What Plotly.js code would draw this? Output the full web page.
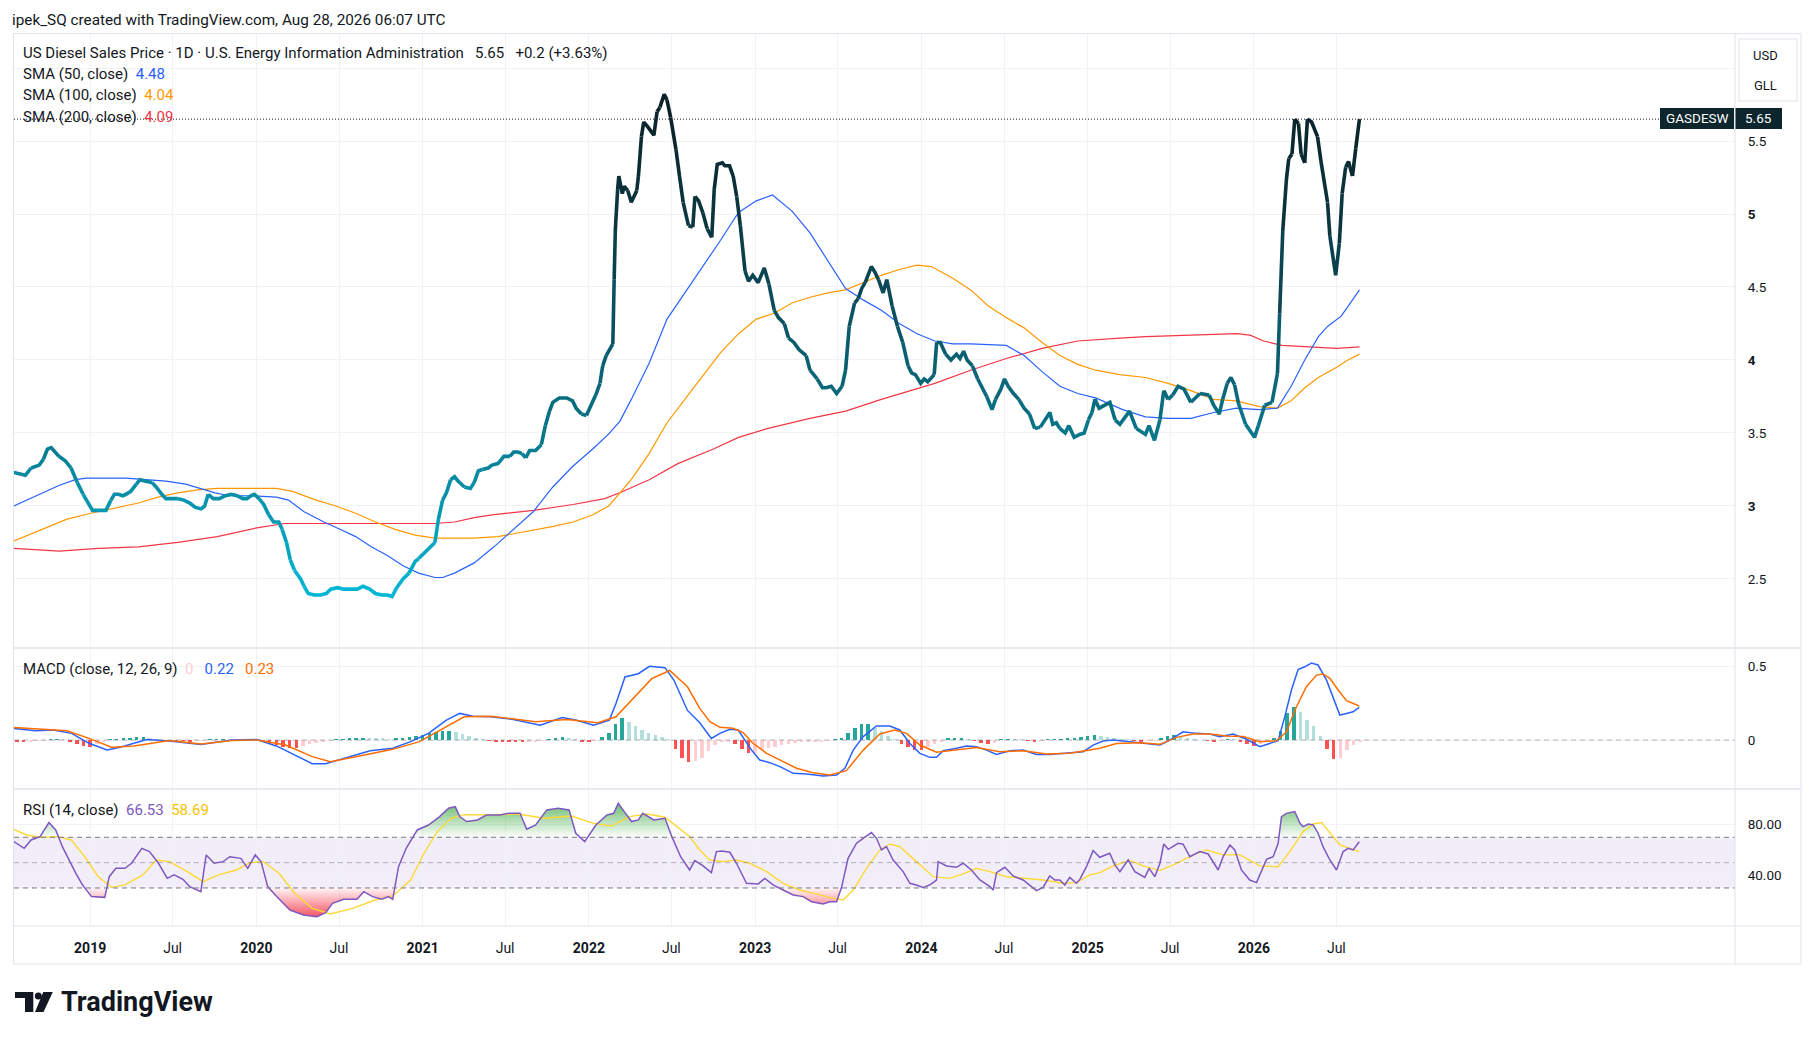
<!DOCTYPE html>
<html><head><meta charset="utf-8">
<script src="https://cdn.plot.ly/plotly-3.0.1.min.js"></script>
<style>html,body{margin:0;padding:0;background:#fff;}#chart{width:1814px;height:1040px;}</style>
</head><body><div id="chart"></div>
<script>
// ---------------- DATA (decimal year, value) ----------------
const price = [[2018.541,3.23],[2018.589,3.22],[2018.610,3.21],[2018.645,3.26],[2018.694,3.28],[2018.719,3.32],[2018.743,3.39],[2018.766,3.40],[2018.812,3.34],[2018.850,3.31],
[2018.885,3.26],[2018.923,3.16],[2018.958,3.08],[2018.993,3.01],[2019.014,2.97],[2019.063,2.97],[2019.095,2.97],[2019.125,3.04],[2019.146,3.08],[2019.171,3.08],
[2019.195,3.07],[2019.216,3.08],[2019.244,3.10],[2019.278,3.15],[2019.299,3.18],[2019.334,3.17],[2019.372,3.16],[2019.397,3.13],[2019.431,3.08],[2019.456,3.05],
[2019.491,3.05],[2019.527,3.05],[2019.564,3.04],[2019.599,3.02],[2019.633,2.99],[2019.668,2.98],[2019.689,3.00],[2019.710,3.08],[2019.741,3.05],[2019.777,3.05],
[2019.814,3.07],[2019.849,3.08],[2019.884,3.07],[2019.919,3.05],[2019.943,3.05],[2019.967,3.07],[2019.988,3.08],[2020.016,3.05],[2020.044,3.01],[2020.074,2.94],
[2020.103,2.89],[2020.134,2.89],[2020.155,2.84],[2020.181,2.75],[2020.204,2.63],[2020.229,2.56],[2020.266,2.50],[2020.287,2.45],[2020.312,2.40],[2020.347,2.39],
[2020.385,2.39],[2020.420,2.40],[2020.447,2.43],[2020.489,2.44],[2020.524,2.43],[2020.573,2.43],[2020.607,2.43],[2020.642,2.45],[2020.681,2.43],[2020.716,2.40],
[2020.754,2.39],[2020.788,2.39],[2020.816,2.38],[2020.844,2.44],[2020.882,2.50],[2020.918,2.54],[2020.955,2.62],[2020.976,2.64],[2021.011,2.68],[2021.046,2.72],
[2021.074,2.75],[2021.095,2.91],[2021.120,3.04],[2021.143,3.09],[2021.168,3.18],[2021.192,3.20],[2021.213,3.17],[2021.251,3.13],[2021.287,3.12],[2021.310,3.16],
[2021.335,3.24],[2021.359,3.25],[2021.394,3.26],[2021.417,3.28],[2021.453,3.29],[2021.489,3.34],[2021.525,3.34],[2021.548,3.37],[2021.572,3.37],[2021.596,3.36],
[2021.620,3.33],[2021.644,3.38],[2021.679,3.38],[2021.714,3.42],[2021.738,3.55],[2021.763,3.65],[2021.783,3.71],[2021.822,3.74],[2021.867,3.74],[2021.902,3.72],
[2021.923,3.67],[2021.955,3.63],[2021.985,3.62],[2022.013,3.69],[2022.041,3.76],[2022.067,3.84],[2022.083,3.96],[2022.104,4.03],[2022.144,4.11],[2022.152,4.55],
[2022.159,4.89],[2022.173,5.17],[2022.180,5.26],[2022.201,5.14],[2022.213,5.19],[2022.234,5.16],[2022.255,5.08],[2022.288,5.16],[2022.298,5.26],[2022.316,5.53],
[2022.330,5.63],[2022.352,5.60],[2022.391,5.54],[2022.410,5.70],[2022.427,5.73],[2022.453,5.82],[2022.470,5.78],[2022.492,5.66],[2022.524,5.44],[2022.545,5.26],
[2022.567,5.08],[2022.599,4.92],[2022.625,4.91],[2022.638,5.12],[2022.660,5.09],[2022.685,5.01],[2022.711,4.90],[2022.739,4.84],[2022.754,5.17],[2022.772,5.34],
[2022.803,5.35],[2022.818,5.33],[2022.846,5.33],[2022.868,5.26],[2022.889,5.12],[2022.911,4.92],[2022.939,4.61],[2022.960,4.54],[2022.986,4.58],[2023.018,4.53],
[2023.055,4.63],[2023.083,4.52],[2023.115,4.34],[2023.140,4.29],[2023.175,4.25],[2023.201,4.15],[2023.233,4.12],[2023.265,4.07],[2023.307,4.03],[2023.330,3.93],
[2023.373,3.87],[2023.405,3.81],[2023.426,3.81],[2023.458,3.82],[2023.490,3.77],[2023.523,3.82],[2023.544,3.93],[2023.566,4.23],[2023.598,4.39],[2023.620,4.42],
[2023.641,4.49],[2023.662,4.53],[2023.699,4.64],[2023.721,4.60],[2023.742,4.55],[2023.770,4.46],[2023.792,4.55],[2023.824,4.37],[2023.856,4.23],[2023.888,4.12],
[2023.920,3.96],[2023.942,3.91],[2023.964,3.90],[2023.996,3.84],[2024.017,3.87],[2024.038,3.85],[2024.077,3.90],[2024.092,4.12],[2024.114,4.12],[2024.146,4.04],
[2024.178,4.00],[2024.211,4.04],[2024.232,4.01],[2024.254,4.06],[2024.275,4.00],[2024.307,3.96],[2024.339,3.87],[2024.371,3.80],[2024.393,3.75],[2024.425,3.66],
[2024.446,3.73],[2024.478,3.80],[2024.500,3.87],[2024.522,3.82],[2024.554,3.77],[2024.586,3.73],[2024.618,3.67],[2024.650,3.63],[2024.682,3.53],[2024.715,3.54],
[2024.747,3.60],[2024.773,3.64],[2024.790,3.56],[2024.812,3.57],[2024.833,3.53],[2024.865,3.50],[2024.887,3.55],[2024.919,3.47],[2024.952,3.49],[2024.979,3.50],
[2025.005,3.59],[2025.026,3.64],[2025.044,3.73],[2025.069,3.67],[2025.134,3.71],[2025.165,3.59],[2025.194,3.56],[2025.252,3.65],[2025.293,3.53],[2025.348,3.49],
[2025.369,3.55],[2025.402,3.45],[2025.435,3.59],[2025.458,3.79],[2025.484,3.73],[2025.512,3.76],[2025.544,3.82],[2025.580,3.80],[2025.621,3.71],[2025.676,3.77],
[2025.731,3.76],[2025.758,3.69],[2025.792,3.63],[2025.812,3.73],[2025.840,3.84],[2025.862,3.88],[2025.884,3.83],[2025.908,3.70],[2025.950,3.56],[2026.004,3.47],
[2026.027,3.55],[2026.065,3.69],[2026.109,3.71],[2026.142,3.91],[2026.155,4.32],[2026.174,4.89],[2026.196,5.24],[2026.210,5.38],[2026.229,5.41],[2026.246,5.65],
[2026.268,5.62],[2026.284,5.41],[2026.306,5.35],[2026.322,5.65],[2026.347,5.63],[2026.383,5.53],[2026.405,5.35],[2026.443,5.08],[2026.457,4.85],[2026.492,4.58],
[2026.514,4.80],[2026.531,5.14],[2026.552,5.32],[2026.569,5.36],[2026.593,5.26],[2026.613,5.45],[2026.635,5.65]];

const sma50 = [[2018.541,3.00],[2018.694,3.08],[2018.812,3.14],[2018.910,3.18],[2018.979,3.19],[2019.097,3.19],[2019.216,3.19],[2019.334,3.18],[2019.456,3.17],[2019.575,3.15],[2019.668,3.12],[2019.752,3.09],[2019.835,3.07],[2019.979,3.07],[2020.120,3.06],[2020.193,3.04],[2020.287,2.96],[2020.406,2.89],[2020.503,2.84],[2020.597,2.79],[2020.691,2.72],[2020.788,2.66],[2020.882,2.59],[2020.976,2.54],[2021.074,2.51],[2021.120,2.51],[2021.192,2.54],[2021.310,2.61],[2021.429,2.72],[2021.547,2.84],[2021.665,2.96],[2021.783,3.13],[2021.902,3.27],[2022.023,3.39],[2022.117,3.49],[2022.186,3.58],[2022.255,3.73],[2022.363,3.98],[2022.470,4.28],[2022.577,4.46],[2022.685,4.64],[2022.792,4.82],[2022.900,5.01],[2023.007,5.09],[2023.104,5.13],[2023.222,5.02],[2023.330,4.87],[2023.437,4.68],[2023.544,4.49],[2023.652,4.41],[2023.759,4.34],[2023.867,4.25],[2023.974,4.18],[2024.081,4.13],[2024.189,4.11],[2024.296,4.11],[2024.511,4.10],[2024.618,4.03],[2024.726,3.92],[2024.833,3.82],[2024.940,3.77],[2025.048,3.74],[2025.156,3.69],[2025.211,3.66],[2025.348,3.61],[2025.484,3.60],[2025.621,3.60],[2025.758,3.64],[2025.895,3.67],[2026.032,3.66],[2026.142,3.67],[2026.224,3.82],[2026.306,4.00],[2026.388,4.16],[2026.443,4.23],[2026.525,4.30],[2026.580,4.39],[2026.635,4.48]];

const sma100 = [[2018.541,2.76],[2018.694,2.83],[2018.861,2.91],[2019.004,2.95],[2019.171,2.99],[2019.290,3.02],[2019.408,3.06],[2019.527,3.09],[2019.646,3.11],[2019.765,3.12],[2019.932,3.12],[2020.120,3.12],[2020.217,3.10],[2020.360,3.04],[2020.478,3.00],[2020.597,2.95],[2020.716,2.89],[2020.835,2.84],[2020.954,2.80],[2021.073,2.78],[2021.192,2.78],[2021.310,2.78],[2021.453,2.79],[2021.548,2.81],[2021.667,2.83],[2021.786,2.86],[2021.905,2.89],[2022.024,2.94],[2022.119,3.00],[2022.186,3.09],[2022.255,3.18],[2022.363,3.36],[2022.470,3.57],[2022.577,3.73],[2022.685,3.89],[2022.792,4.05],[2022.900,4.18],[2023.007,4.28],[2023.115,4.32],[2023.222,4.39],[2023.330,4.43],[2023.437,4.46],[2023.544,4.48],[2023.652,4.53],[2023.759,4.58],[2023.867,4.62],[2023.974,4.65],[2024.060,4.64],[2024.189,4.56],[2024.296,4.48],[2024.403,4.37],[2024.511,4.29],[2024.618,4.22],[2024.726,4.12],[2024.833,4.03],[2024.940,3.97],[2025.048,3.93],[2025.194,3.90],[2025.348,3.88],[2025.484,3.84],[2025.621,3.79],[2025.758,3.73],[2025.895,3.72],[2026.032,3.68],[2026.142,3.67],[2026.224,3.72],[2026.306,3.81],[2026.388,3.88],[2026.498,3.95],[2026.566,4.00],[2026.635,4.04]];

const sma200 = [[2018.541,2.71],[2018.694,2.70],[2018.812,2.69],[2019.052,2.71],[2019.290,2.72],[2019.527,2.75],[2019.765,2.79],[2020.002,2.85],[2020.169,2.88],[2020.360,2.88],[2020.597,2.88],[2020.835,2.88],[2021.073,2.88],[2021.192,2.89],[2021.310,2.92],[2021.429,2.94],[2021.667,2.97],[2021.905,3.01],[2022.095,3.05],[2022.186,3.09],[2022.363,3.18],[2022.535,3.29],[2022.749,3.39],[2022.900,3.47],[2023.072,3.53],[2023.330,3.60],[2023.544,3.65],[2023.759,3.73],[2023.974,3.80],[2024.081,3.84],[2024.296,3.93],[2024.511,4.01],[2024.726,4.08],[2024.940,4.13],[2025.194,4.15],[2025.348,4.16],[2025.621,4.17],[2025.895,4.18],[2025.977,4.17],[2026.059,4.13],[2026.169,4.10],[2026.306,4.09],[2026.498,4.08],[2026.635,4.09]];

const macdLine = [[2018.541,0.078],[2018.672,0.063],[2018.777,0.067],[2018.889,0.045],[2018.993,-0.022],[2019.102,-0.067],[2019.181,-0.049],[2019.341,0.004],[2019.477,-0.007],[2019.666,-0.031],[2019.854,0.0],[2020.002,0.004],[2020.120,-0.04],[2020.230,-0.10],[2020.336,-0.16],[2020.417,-0.16],[2020.524,-0.123],[2020.684,-0.072],[2020.820,-0.056],[2020.928,-0.011],[2021.035,0.045],[2021.143,0.135],[2021.223,0.18],[2021.303,0.16],[2021.411,0.157],[2021.545,0.139],[2021.707,0.10],[2021.839,0.152],[2021.921,0.135],[2022.028,0.10],[2022.123,0.135],[2022.163,0.247],[2022.217,0.426],[2022.297,0.448],[2022.364,0.498],[2022.458,0.489],[2022.512,0.404],[2022.593,0.20],[2022.667,0.117],[2022.737,0.011],[2022.788,0.045],[2022.848,0.072],[2022.898,0.068],[2022.939,0.0],[2022.978,-0.068],[2023.028,-0.135],[2023.088,-0.153],[2023.149,-0.18],[2023.229,-0.225],[2023.309,-0.23],[2023.409,-0.243],[2023.490,-0.236],[2023.540,-0.191],[2023.590,-0.068],[2023.650,0.023],[2023.730,0.095],[2023.810,0.095],[2023.870,0.068],[2023.931,-0.023],[2023.991,-0.09],[2024.051,-0.117],[2024.091,-0.117],[2024.131,-0.072],[2024.211,-0.056],[2024.271,-0.041],[2024.332,-0.045],[2024.392,-0.068],[2024.452,-0.097],[2024.532,-0.072],[2024.612,-0.068],[2024.692,-0.097],[2024.772,-0.097],[2024.873,-0.09],[2024.973,-0.079],[2025.033,-0.034],[2025.093,-0.007],[2025.154,0.0],[2025.254,-0.011],[2025.354,-0.027],[2025.435,-0.034],[2025.494,0.0],[2025.574,0.056],[2025.655,0.045],[2025.735,0.041],[2025.795,0.023],[2025.875,0.041],[2025.956,0.005],[2026.036,-0.045],[2026.095,-0.023],[2026.146,-0.005],[2026.186,0.158],[2026.226,0.338],[2026.266,0.477],[2026.306,0.495],[2026.346,0.52],[2026.386,0.507],[2026.437,0.405],[2026.477,0.293],[2026.517,0.169],[2026.557,0.18],[2026.597,0.191],[2026.634,0.22]];

const macdSignal = [[2018.541,0.085],[2018.861,0.063],[2018.993,0.011],[2019.129,-0.049],[2019.263,-0.04],[2019.477,-0.004],[2019.666,-0.027],[2019.854,-0.004],[2020.002,0.0],[2020.176,-0.034],[2020.336,-0.112],[2020.445,-0.146],[2020.605,-0.112],[2020.820,-0.063],[2020.981,-0.011],[2021.143,0.09],[2021.250,0.157],[2021.411,0.161],[2021.679,0.123],[2021.867,0.139],[2022.055,0.117],[2022.163,0.157],[2022.271,0.29],[2022.378,0.415],[2022.486,0.47],[2022.593,0.36],[2022.667,0.214],[2022.728,0.124],[2022.788,0.086],[2022.868,0.079],[2022.928,0.05],[2022.988,-0.023],[2023.069,-0.09],[2023.149,-0.135],[2023.249,-0.191],[2023.349,-0.221],[2023.449,-0.236],[2023.549,-0.207],[2023.650,-0.068],[2023.750,0.041],[2023.840,0.068],[2023.911,0.045],[2023.991,-0.034],[2024.091,-0.083],[2024.211,-0.068],[2024.332,-0.05],[2024.471,-0.079],[2024.612,-0.072],[2024.753,-0.095],[2024.893,-0.09],[2025.013,-0.068],[2025.073,-0.056],[2025.174,-0.023],[2025.314,-0.018],[2025.435,-0.029],[2025.534,0.018],[2025.635,0.041],[2025.735,0.041],[2025.835,0.027],[2025.936,0.023],[2026.036,-0.011],[2026.136,-0.005],[2026.196,0.056],[2026.256,0.225],[2026.316,0.36],[2026.377,0.439],[2026.416,0.446],[2026.457,0.417],[2026.507,0.338],[2026.557,0.266],[2026.634,0.23]];

const macdHist = [[2018.56,-0.012],[2018.60,-0.015],[2018.64,-0.012],[2018.68,-0.008],[2018.72,-0.004],[2018.76,0.006],[2018.80,0.008],[2018.84,0.004],[2018.88,-0.01],[2018.92,-0.025],
[2018.96,-0.038],[2019.00,-0.045],[2019.04,-0.028],[2019.08,-0.01],[2019.12,0.004],[2019.16,0.008],[2019.20,0.012],[2019.24,0.016],[2019.28,0.018],[2019.32,0.02],
[2019.36,0.012],[2019.40,0.006],[2019.44,-0.004],[2019.48,-0.006],[2019.52,-0.008],[2019.56,-0.008],[2019.60,-0.01],[2019.64,-0.008],[2019.68,-0.004],[2019.72,0.004],
[2019.76,0.005],[2019.80,0.006],[2019.84,0.005],[2019.88,0.004],[2019.92,0.003],[2019.96,0.002],[2020.00,-0.006],[2020.04,-0.015],[2020.08,-0.025],[2020.12,-0.035],
[2020.16,-0.045],[2020.20,-0.052],[2020.24,-0.056],[2020.28,-0.04],[2020.32,-0.03],[2020.36,-0.02],[2020.40,-0.012],[2020.44,-0.005],[2020.48,0.006],[2020.52,0.01],
[2020.56,0.014],[2020.60,0.016],[2020.64,0.016],[2020.68,0.015],[2020.72,0.014],[2020.76,0.012],[2020.80,0.01],[2020.84,0.012],[2020.88,0.016],[2020.92,0.022],
[2020.96,0.028],[2021.00,0.036],[2021.04,0.045],[2021.08,0.052],[2021.12,0.058],[2021.16,0.063],[2021.20,0.055],[2021.24,0.04],[2021.28,0.028],[2021.32,0.015],
[2021.36,0.004],[2021.40,-0.006],[2021.44,-0.01],[2021.48,-0.012],[2021.52,-0.014],[2021.56,-0.016],[2021.60,-0.016],[2021.64,-0.014],[2021.68,-0.01],[2021.72,-0.008],
[2021.76,0.004],[2021.80,0.016],[2021.84,0.02],[2021.88,0.016],[2021.92,0.008],[2021.96,-0.01],[2022.00,-0.015],[2022.04,-0.006],[2022.08,0.02],[2022.12,0.05],
[2022.16,0.11],[2022.20,0.146],[2022.24,0.125],[2022.28,0.095],[2022.32,0.07],[2022.36,0.05],[2022.40,0.035],[2022.44,0.02],[2022.48,0.005],[2022.52,-0.06],
[2022.56,-0.12],[2022.60,-0.15],[2022.64,-0.14],[2022.68,-0.12],[2022.72,-0.075],[2022.76,-0.036],[2022.80,-0.012],[2022.84,-0.01],[2022.88,-0.03],[2022.92,-0.06],
[2022.96,-0.09],[2023.00,-0.088],[2023.04,-0.07],[2023.08,-0.055],[2023.12,-0.045],[2023.16,-0.035],[2023.20,-0.028],[2023.24,-0.022],[2023.28,-0.016],[2023.32,-0.013],
[2023.36,-0.012],[2023.40,-0.01],[2023.44,-0.008],[2023.48,0.004],[2023.52,0.016],[2023.56,0.045],[2023.60,0.08],[2023.64,0.105],[2023.68,0.108],[2023.72,0.082],
[2023.76,0.06],[2023.80,0.03],[2023.84,0.01],[2023.88,-0.028],[2023.92,-0.05],[2023.96,-0.07],[2024.00,-0.07],[2024.04,-0.045],[2024.08,-0.025],[2024.12,-0.01],
[2024.16,0.012],[2024.20,0.013],[2024.24,0.014],[2024.28,0.008],[2024.32,-0.008],[2024.36,-0.02],[2024.40,-0.03],[2024.44,-0.02],[2024.48,0.004],[2024.52,0.007],
[2024.56,0.006],[2024.60,0.004],[2024.64,-0.008],[2024.68,-0.01],[2024.72,-0.006],[2024.76,0.004],[2024.80,0.008],[2024.84,0.01],[2024.88,0.012],[2024.92,0.016],
[2024.96,0.022],[2025.00,0.028],[2025.04,0.032],[2025.08,0.03],[2025.12,0.022],[2025.16,0.012],[2025.20,0.006],[2025.24,0.004],[2025.28,-0.006],[2025.32,-0.01],
[2025.36,-0.008],[2025.40,-0.004],[2025.44,0.012],[2025.48,0.025],[2025.52,0.034],[2025.56,0.02],[2025.60,0.012],[2025.64,0.006],[2025.68,0.003],[2025.72,-0.006],
[2025.76,-0.011],[2025.80,-0.005],[2025.84,0.007],[2025.88,0.006],[2025.92,-0.012],[2025.96,-0.025],[2026.00,-0.04],[2026.04,-0.03],[2026.08,-0.01],[2026.12,0.011],
[2026.16,0.06],[2026.20,0.18],[2026.24,0.222],[2026.28,0.19],[2026.32,0.138],[2026.36,0.095],[2026.40,0.03],[2026.44,-0.06],[2026.48,-0.13],[2026.52,-0.12],
[2026.56,-0.065],[2026.60,-0.032],[2026.64,-0.01]];

const rsi = [[2018.541,66.6],[2018.603,61.3],[2018.645,67.9],[2018.699,70.5],[2018.752,81.6],[2018.793,75.8],[2018.833,62.6],[2018.873,52.1],[2018.914,41.6],[2018.954,32.4],[2019.008,23.2],[2019.088,22.6],[2019.115,38.9],[2019.155,45.5],[2019.209,45.5],[2019.249,49.5],[2019.311,61.3],[2019.357,58.7],[2019.411,49.5],[2019.464,37.6],[2019.505,40.3],[2019.558,36.8],[2019.599,31.1],[2019.666,27.1],[2019.698,56.1],[2019.746,49.5],[2019.800,50.8],[2019.840,54.7],[2019.907,53.4],[2019.948,45.5],[2019.993,56.1],[2020.028,50.8],[2020.068,31.1],[2020.122,23.2],[2020.202,12.6],[2020.283,8.7],[2020.364,7.4],[2020.417,10.5],[2020.458,17.9],[2020.525,21.1],[2020.605,21.1],[2020.646,27.1],[2020.699,23.2],[2020.754,21.1],[2020.793,23.2],[2020.820,21.1],[2020.855,46.8],[2020.901,61.3],[2020.968,75.8],[2021.035,79.7],[2021.102,86.3],[2021.156,92.9],[2021.196,94.2],[2021.223,86.3],[2021.264,82.4],[2021.330,83.7],[2021.384,87.6],[2021.465,87.6],[2021.518,88.9],[2021.586,88.9],[2021.626,76.3],[2021.680,79.7],[2021.747,91.6],[2021.814,92.9],[2021.881,91.6],[2021.921,73.2],[2021.975,66.6],[2022.042,79.7],[2022.109,87.6],[2022.149,88.9],[2022.177,96.8],[2022.217,89.5],[2022.257,82.4],[2022.297,83.7],[2022.324,88.9],[2022.391,83.7],[2022.458,85.0],[2022.499,70.5],[2022.552,54.7],[2022.606,44.2],[2022.637,51.6],[2022.687,47.4],[2022.737,42.1],[2022.767,58.7],[2022.799,59.2],[2022.848,58.2],[2022.888,49.5],[2022.948,33.7],[2022.988,33.7],[2023.019,33.2],[2023.058,37.6],[2023.108,32.4],[2023.168,28.4],[2023.229,24.5],[2023.289,23.2],[2023.339,19.2],[2023.409,17.4],[2023.449,19.2],[2023.490,19.2],[2023.520,30.5],[2023.559,53.4],[2023.610,65.3],[2023.650,69.2],[2023.700,73.7],[2023.730,69.2],[2023.760,60.0],[2023.790,62.6],[2023.830,52.1],[2023.890,42.9],[2023.931,33.7],[2023.970,32.4],[2024.011,30.5],[2024.051,32.4],[2024.091,36.3],[2024.101,50.8],[2024.151,47.4],[2024.211,46.3],[2024.251,49.5],[2024.301,44.2],[2024.352,36.3],[2024.412,31.1],[2024.432,28.4],[2024.452,42.1],[2024.502,46.3],[2024.552,39.5],[2024.612,36.3],[2024.692,27.9],[2024.732,30.5],[2024.772,39.5],[2024.803,36.3],[2024.833,36.3],[2024.863,32.4],[2024.892,38.4],[2024.933,33.7],[2024.953,36.8],[2024.993,46.8],[2025.033,59.5],[2025.073,54.2],[2025.133,57.4],[2025.164,48.2],[2025.194,42.9],[2025.244,52.1],[2025.284,42.9],[2025.344,38.4],[2025.370,45.5],[2025.404,38.9],[2025.435,49.5],[2025.458,64.7],[2025.485,60.5],[2025.544,65.3],[2025.574,64.5],[2025.615,54.7],[2025.675,58.7],[2025.725,56.8],[2025.785,44.2],[2025.815,54.7],[2025.856,63.9],[2025.885,60.0],[2025.925,44.2],[2025.975,36.3],[2026.016,34.2],[2026.046,44.2],[2026.076,52.6],[2026.116,54.7],[2026.146,65.3],[2026.166,86.3],[2026.196,88.9],[2026.246,90.3],[2026.277,81.0],[2026.296,78.4],[2026.327,80.5],[2026.357,79.7],[2026.386,73.2],[2026.416,62.6],[2026.457,52.1],[2026.497,44.2],[2026.537,58.7],[2026.567,61.3],[2026.597,60.0],[2026.634,66.53]];

const rsiMA = [[2018.541,76.3],[2018.617,71.8],[2018.699,70.0],[2018.805,70.5],[2018.887,67.9],[2018.967,54.7],[2019.049,38.9],[2019.129,30.5],[2019.209,32.4],[2019.317,40.3],[2019.397,52.1],[2019.477,50.8],[2019.585,42.9],[2019.679,35.0],[2019.772,40.3],[2019.880,44.2],[2019.960,50.0],[2020.042,50.8],[2020.136,41.6],[2020.230,25.8],[2020.336,13.9],[2020.445,9.5],[2020.579,13.9],[2020.713,20.5],[2020.820,23.7],[2020.928,36.3],[2021.008,57.4],[2021.089,74.5],[2021.170,85.0],[2021.250,87.9],[2021.411,87.6],[2021.572,88.4],[2021.733,85.0],[2021.895,86.8],[2022.028,81.0],[2022.136,78.9],[2022.243,86.3],[2022.351,88.4],[2022.458,85.8],[2022.566,74.5],[2022.607,70.5],[2022.667,60.0],[2022.728,52.1],[2022.808,50.8],[2022.888,52.1],[2022.968,49.5],[2023.069,42.9],[2023.168,33.7],[2023.269,28.4],[2023.369,25.3],[2023.469,21.8],[2023.529,20.5],[2023.590,28.4],[2023.670,45.5],[2023.750,60.0],[2023.810,64.7],[2023.870,62.6],[2023.970,50.8],[2024.071,38.9],[2024.171,37.6],[2024.251,41.1],[2024.332,45.5],[2024.412,42.9],[2024.512,38.9],[2024.612,37.6],[2024.732,36.3],[2024.853,33.7],[2024.933,34.2],[2025.013,40.3],[2025.073,42.1],[2025.154,47.4],[2025.254,51.6],[2025.334,47.4],[2025.435,43.7],[2025.534,49.5],[2025.635,56.1],[2025.715,60.0],[2025.815,56.1],[2025.915,56.1],[2026.036,47.4],[2026.146,46.8],[2026.216,58.7],[2026.296,74.5],[2026.357,80.5],[2026.407,81.6],[2026.457,73.7],[2026.517,64.0],[2026.577,61.3],[2026.634,58.69]];

const xTickVals = [2019,2019.496,2020,2020.497,2021,2021.496,2022,2022.496,2023,2023.496,2024,2024.497,2025,2025.496,2026,2026.496];
const xTickText = ['<b>2019</b>','Jul','<b>2020</b>','Jul','<b>2021</b>','Jul','<b>2022</b>','Jul','<b>2023</b>','Jul','<b>2024</b>','Jul','<b>2025</b>','Jul','<b>2026</b>','Jul'];
const priceTickVals = [2.5,3,3.5,4,4.5,5,5.5,6];
const priceTickText = ['2.5','<b>3</b>','3.5','<b>4</b>','4.5','<b>5</b>','5.5',''];
const macdTickVals = [0,0.5];
const macdTickText = ['0','0.5'];
const rsiTickVals = [40,80];
const rsiTickText = ['40.00','80.00'];
const lastPrice = 5.65;
const headerText = 'ipek_SQ created with TradingView.com, Aug 28, 2026 06:07 UTC';
const titleText = 'US Diesel Sales Price · 1D · U.S. Energy Information Administration&nbsp;&nbsp;&nbsp;5.65&nbsp;&nbsp;&nbsp;+0.2 (+3.63%)';
const symbol = 'GASDESW';

// ---------------- LAYOUT HELPERS ----------------
const L = 14, R = 1735, T = 34, B = 926;
const px = x => (x - L) / (R - L);
const py = y => (B - y) / (B - T);
const X = a => a.map(d => d[0]);
const Y = a => a.map(d => d[1]);

const C = {text:'#131722', grid:'#f0f2f5', border:'#e0e3eb', blue:'#2962ff', orange:'#ff9800', red:'#f23645',
  macd:'#2962ff', signal:'#ff6d00', rsi:'#7e57c2', rsiMA:'#fdd835', dark:'#0d262d'};
const FONT = 'Roboto, "Noto Sans", "DejaVu Sans", sans-serif';

// price line gradient colors
const stops = [[2.4,[0,182,212]],[3.0,[6,150,176]],[3.5,[9,118,138]],[4.0,[10,95,112]],[4.5,[11,73,87]],[5.0,[11,54,64]],[5.7,[10,34,39]]];
function colorAt(v){
  if (v <= stops[0][0]) return 'rgb('+stops[0][1].join(',')+')';
  for (let i=1;i<stops.length;i++){
    if (v <= stops[i][0]){
      const a=stops[i-1], b=stops[i], f=(v-a[0])/(b[0]-a[0]);
      return 'rgb('+a[1].map((c,k)=>Math.round(c+(b[1][k]-c)*f)).join(',')+')';
    }
  }
  return 'rgb('+stops[stops.length-1][1].join(',')+')';
}

const traces = [];
function line(data, color, width, yaxis){
  traces.push({type:'scatter', mode:'lines', x:X(data), y:Y(data), xaxis:'x', yaxis:yaxis,
    line:{color:color, width:width, shape:'linear'}, hoverinfo:'skip', showlegend:false, cliponaxis:true});
}

// SMAs
line(sma200, C.red, 1.2, 'y');
line(sma100, C.orange, 1.2, 'y');
line(sma50, C.blue, 1.2, 'y');

// Price line as runs of same colour bin
(function(){
  const bins = [];
  for (let i=0;i<price.length-1;i++) bins.push(Math.round((price[i][1]+price[i+1][1])/2*10));
  let s = 0;
  for (let i=1;i<=bins.length;i++){
    if (i===bins.length || bins[i]!==bins[s]){
      const seg = price.slice(s, i+1);
      traces.push({type:'scatter', mode:'lines', x:X(seg), y:Y(seg), xaxis:'x', yaxis:'y',
        line:{color:colorAt(bins[s]/10), width:3.6}, hoverinfo:'skip', showlegend:false});
      s = i;
    }
  }
})();

// MACD histogram
(function(){
  const cols = macdHist.map((d,i)=>{
    const prev = i>0 ? macdHist[i-1][1] : d[1];
    if (d[1] >= 0) return d[1] >= prev ? '#26a69a' : '#b2dfdb';
    return d[1] <= prev ? '#ff5252' : '#ffcdd2';
  });
  traces.push({type:'bar', x:X(macdHist), y:Y(macdHist), xaxis:'x', yaxis:'y2', width:0.021,
    marker:{color:cols, line:{width:0}}, hoverinfo:'skip', showlegend:false});
})();
line(macdLine, C.macd, 1.5, 'y2');
line(macdSignal, C.signal, 1.5, 'y2');

// RSI zone fills
function clampFill(data, level, above){
  const xs=[], ys=[];
  for (let i=0;i<data.length;i++){
    const [x,y] = data[i];
    xs.push(x); ys.push(above ? Math.max(y,level) : Math.min(y,level));
    if (i<data.length-1){
      const [x2,y2] = data[i+1];
      if ((y-level)*(y2-level) < 0){
        xs.push(x + (level-y)/(y2-y)*(x2-x)); ys.push(level);
      }
    }
  }
  return {xs, ys};
}
function zone(level, above, scale, start, stop, fallback){
  const f = clampFill(rsi, level, above);
  traces.push({type:'scatter', mode:'lines', x:f.xs, y:f.xs.map(()=>level), xaxis:'x', yaxis:'y3',
    line:{width:0, color:'rgba(0,0,0,0)'}, hoverinfo:'skip', showlegend:false});
  traces.push({type:'scatter', mode:'lines', x:f.xs, y:f.ys, xaxis:'x', yaxis:'y3', fill:'tonexty',
    fillcolor:fallback, fillgradient:{type:'vertical', start:start, stop:stop, colorscale:scale},
    line:{width:0, color:'rgba(0,0,0,0)'}, hoverinfo:'skip', showlegend:false});
}
zone(70, true, [[0,'rgba(76,175,80,0.02)'],[1,'rgba(76,175,80,0.8)']], 70, 96, 'rgba(76,175,80,0.35)');
zone(30, false, [[0,'rgba(242,54,69,0.85)'],[1,'rgba(242,54,69,0.05)']], 7, 30, 'rgba(242,54,69,0.35)');
line(rsiMA, C.rsiMA, 1.4, 'y3');
line(rsi, C.rsi, 1.5, 'y3');

// ---------------- SHAPES ----------------
const shapes = [];
const hline = (y, x0, x1, color, dash, width) => shapes.push({type:'line', xref:'paper', yref:'paper', x0:x0, x1:x1, y0:y, y1:y, line:{color:color, width:width||1, dash:dash||'solid'}});
shapes.push({type:'rect', xref:'paper', yref:'y3', x0:0, x1:1, y0:30, y1:70, fillcolor:'rgba(126,87,194,0.1)', line:{width:0}, layer:'below'});
[[70,'#787b86'],[50,'rgba(120,123,134,0.55)'],[30,'#787b86']].forEach(([lv,col])=>
  shapes.push({type:'line', xref:'paper', yref:'y3', x0:0, x1:1, y0:lv, y1:lv, line:{color:col, width:1, dash:'5px,4px'}}));
shapes.push({type:'line', xref:'paper', yref:'y2', x0:0, x1:1, y0:0, y1:0, line:{color:'rgba(120,123,134,0.55)', width:1, dash:'5px,4px'}});
shapes.push({type:'line', xref:'paper', yref:'y', x0:0, x1:px(1660), y0:lastPrice, y1:lastPrice, line:{color:'#131722', width:1, dash:'1px,2px'}});
shapes.push({type:'rect', xref:'paper', yref:'paper', x0:px(13.5), x1:px(1801), y0:py(964), y1:py(33.5), line:{color:C.border, width:1}, fillcolor:'rgba(0,0,0,0)'});
hline(py(648), px(13.5), px(1801), C.border, 'solid', 1.5);
hline(py(789), px(13.5), px(1801), C.border, 'solid', 1.5);
hline(py(926), px(13.5), px(1801), C.border, 'solid', 1);
shapes.push({type:'line', xref:'paper', yref:'paper', x0:1, x1:1, y0:py(964), y1:py(33.5), line:{color:C.border, width:1}});
shapes.push({type:'rect', xref:'paper', yref:'paper', x0:px(1660), x1:px(1734), y0:py(129), y1:py(108), fillcolor:C.dark, line:{width:0}});
shapes.push({type:'rect', xref:'paper', yref:'paper', x0:px(1735.5), x1:px(1782), y0:py(129), y1:py(108), fillcolor:C.dark, line:{width:0}});
shapes.push({type:'rect', xref:'paper', yref:'paper', x0:px(1739), x1:px(1797), y0:py(101), y1:py(39), fillcolor:'#ffffff', line:{color:C.border, width:1}});
const P = pts => 'M ' + pts.map(p=>px(p[0])+','+py(p[1])).join(' L ') + ' Z';
shapes.push({type:'path', xref:'paper', yref:'paper', path:P([[15,992],[33.3,992],[33.3,1012],[25,1012],[25,998],[15,998]]), fillcolor:'#131722', line:{width:0}});
shapes.push({type:'circle', xref:'paper', yref:'paper', x0:px(34.8), x1:px(41.8), y0:py(999.6), y1:py(992.6), fillcolor:'#131722', line:{width:0}});
shapes.push({type:'path', xref:'paper', yref:'paper', path:P([[43.3,992],[52.8,992],[43.5,1012],[35,1012]]), fillcolor:'#131722', line:{width:0}});

// ---------------- ANNOTATIONS ----------------
const ann = [];
const text = (x, y, t, size, color, anchor, extra) => ann.push(Object.assign({xref:'paper', yref:'paper', x:px(x), y:py(y), text:t, showarrow:false,
  xanchor:anchor||'left', yanchor:'middle', font:{family:FONT, size:size, color:color||C.text}, borderpad:0}, extra||{}));
text(11, 20, headerText, 15.3);
text(22, 53, titleText, 15);
text(22, 74, 'SMA (50, close)&nbsp;&nbsp;<span style="color:'+C.blue+'">'+sma50[sma50.length-1][1].toFixed(2)+'</span>', 15);
text(22, 95.5, 'SMA (100, close)&nbsp;&nbsp;<span style="color:'+C.orange+'">'+sma100[sma100.length-1][1].toFixed(2)+'</span>', 15);
text(22, 117, 'SMA (200, close)&nbsp;&nbsp;<span style="color:'+C.red+'">'+sma200[sma200.length-1][1].toFixed(2)+'</span>', 15);
text(22, 669, 'MACD (close, 12, 26, 9)&nbsp;&nbsp;<span style="color:#ffcdd2">0</span>&nbsp;&nbsp;&nbsp;<span style="color:'+C.macd+'">'+macdLine[macdLine.length-1][1].toFixed(2)+'</span>&nbsp;&nbsp;&nbsp;<span style="color:'+C.signal+'">'+macdSignal[macdSignal.length-1][1].toFixed(2)+'</span>', 15);
text(22, 810, 'RSI (14, close)&nbsp;&nbsp;<span style="color:'+C.rsi+'">'+rsi[rsi.length-1][1].toFixed(2)+'</span>&nbsp;&nbsp;<span style="color:#f5c400">'+rsiMA[rsiMA.length-1][1].toFixed(2)+'</span>', 15);
text(1697, 118.5, symbol, 13.5, '#ffffff', 'center');
text(1758.5, 118.5, lastPrice.toFixed(2), 13.5, '#ffffff', 'center');
text(1765, 55, 'USD', 13, C.text, 'center');
text(1765, 86, 'GLL', 13, C.text, 'center');
text(60, 1002, '<b>TradingView</b>', 27, '#131722');

// ---------------- AXES ----------------
const yBase = {side:'right', showgrid:true, gridcolor:C.grid, gridwidth:1, zeroline:false, showline:false,
  ticks:'outside', ticklen:9, tickcolor:'rgba(0,0,0,0)', tickfont:{family:FONT, size:13.5, color:C.text}, fixedrange:true, anchor:'x'};
const layout = {
  width:1814, height:1040, paper_bgcolor:'#ffffff', plot_bgcolor:'#ffffff',
  margin:{l:L, r:1814-R, t:T, b:1040-B, pad:0},
  font:{family:FONT, color:C.text},
  showlegend:false, hovermode:false, bargap:0,
  xaxis:{range:[2018.542, 2028.894], tickmode:'array', tickvals:xTickVals, ticktext:xTickText, showgrid:true, gridcolor:C.grid,
    zeroline:false, showline:false, ticks:'outside', ticklen:9, tickcolor:'rgba(0,0,0,0)', tickfont:{family:FONT, size:14, color:C.text},
    anchor:'y3', fixedrange:true},
  yaxis: Object.assign({}, yBase, {domain:[py(648), 1], range:[2.027, 6.233], tickmode:'array', tickvals:priceTickVals, ticktext:priceTickText}),
  yaxis2: Object.assign({}, yBase, {domain:[py(789), py(648)], range:[-0.331, 0.622], tickmode:'array', tickvals:macdTickVals, ticktext:macdTickText}),
  yaxis3: Object.assign({}, yBase, {domain:[0, py(789)], range:[0, 108.1], tickmode:'array', tickvals:rsiTickVals, ticktext:rsiTickText}),
  shapes:shapes, annotations:ann
};
Plotly.newPlot('chart', traces, layout, {staticPlot:true, displayModeBar:false});
</script>
</body></html>
